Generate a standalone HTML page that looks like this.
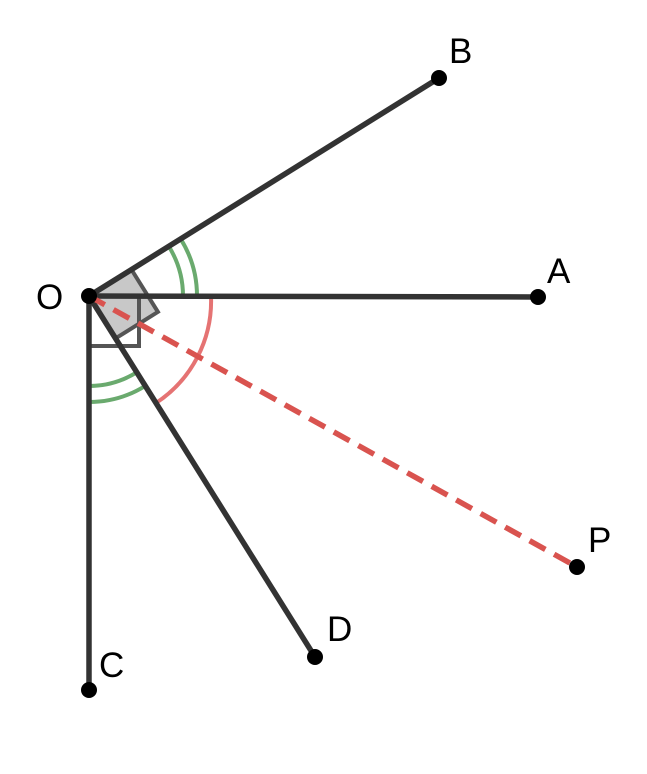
<!DOCTYPE html>
<html><head><style>html,body{margin:0;padding:0;background:#fff;}svg{display:block}</style></head>
<body>
<svg width="647" height="774" viewBox="0 0 647 774" xmlns="http://www.w3.org/2000/svg">
<g fill="none" stroke-linecap="butt">
<polygon points="89,296 131.4,269.5 157.9,311.9 115.5,338.4" fill="#c8c8c8" stroke="#555" stroke-width="4"/>
<polyline points="89,346 139,346 139,296" stroke="#555" stroke-width="4"/>
<path d="M183,296 A94,94 0 0 0 168.7,246.2" stroke="#6aaa6e" stroke-width="4"/>
<path d="M197,296 A108,108 0 0 0 180.6,238.8" stroke="#6aaa6e" stroke-width="4"/>
<path d="M89,386 A90,90 0 0 0 136.7,372.3" stroke="#6aaa6e" stroke-width="4"/>
<path d="M89,402 A106,106 0 0 0 145.2,385.9" stroke="#6aaa6e" stroke-width="4"/>
<path d="M211,296 A122,122 0 0 1 156,403" stroke="#e57373" stroke-width="4"/>
<line x1="89" y1="296" x2="439" y2="78" stroke="#333" stroke-width="5.5"/>
<line x1="89" y1="296" x2="538" y2="297" stroke="#333" stroke-width="5.5"/>
<line x1="89" y1="296" x2="89" y2="690" stroke="#333" stroke-width="5.5"/>
<line x1="89" y1="296" x2="315" y2="657" stroke="#333" stroke-width="5.5"/>
<line x1="89" y1="296" x2="577" y2="567" stroke="#d9534f" stroke-width="5.5" stroke-dasharray="18,10"/>
</g>
<g fill="#000">
<circle cx="89" cy="296" r="8"/><circle cx="439" cy="78" r="8"/><circle cx="538" cy="297" r="8"/>
<circle cx="89" cy="690" r="8"/><circle cx="315" cy="657" r="8"/><circle cx="577" cy="567" r="8"/>
</g>
<g font-family="Liberation Sans, sans-serif" font-size="35" fill="#000">
<text x="449" y="63">B</text>
<text x="547" y="283">A</text>
<text x="36" y="309">O</text>
<text x="588" y="552">P</text>
<text x="327" y="641">D</text>
<text x="99" y="677">C</text>
</g>
</svg>
</body></html>
